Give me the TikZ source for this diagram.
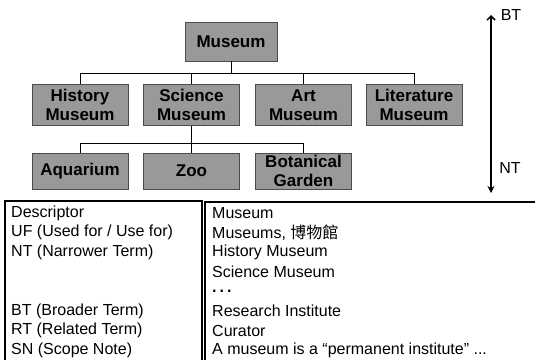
\documentclass[tikz,border=0pt]{standalone}
\usepackage{fontspec}
\setmainfont{Liberation Sans}
\newfontfamily\cjk{Noto Sans CJK TC}
\usetikzlibrary{arrows.meta}

\tikzset{
  term/.style={draw=black!70, fill=black!40, minimum width=96pt, minimum height=41pt,
    inner sep=1pt, align=center, font=\fontsize{17}{19}\selectfont\bfseries},
  field/.style={anchor=west, inner sep=0pt, font=\fontsize{16}{19}\selectfont},
  link/.style={line width=1pt},
  frame/.style={line width=1.2pt}
}

\begin{document}
\begin{tikzpicture}[x=1pt,y=-1pt]
        \useasboundingbox (0,0) rectangle (535,359);

        % Define the terms
        \node[term, minimum width=92pt, minimum height=39pt] (museum) at (231,41.5) {Museum};
        \node[term] (history) at (80,105) {History\\Museum};
        \node[term] (science) at (191.5,105) {Science\\Museum};
        \node[term] (art) at (303.5,105) {Art\\Museum};
        \node[term] (literature) at (414,105) {Literature\\Museum};
        \node[term, minimum height=36pt] (aquarium) at (80,171) {Aquarium};
        \node[term, minimum height=36pt] (zoo) at (191.5,171) {Zoo};
        \node[term, minimum height=36pt] (botanical) at (303.5,171) {Botanical\\Garden};

        % Define the links
        \draw[link] (museum.south) -- ++(0,12) -| (history.north);
        \draw[link] (museum.south) -- ++(0,12) -| (science.north);
        \draw[link] (museum.south) -- ++(0,12) -| (art.north);
        \draw[link] (museum.south) -- ++(0,12) -| (literature.north);
        \draw[link] (science.south) -- ++(0,18) -| (aquarium.north);
        \draw[link] (science.south) -- ++(0,18) -| (zoo.north);
        \draw[link] (science.south) -- ++(0,18) -| (botanical.north);

        % Define the direction arrow
        \coordinate (top) at (491,15);
        \coordinate (bottom) at (491,193);
        \node[font=\fontsize{16}{19}\selectfont, inner sep=0pt] (btlabel) at (511,15) {BT};
        \node[font=\fontsize{16}{19}\selectfont, inner sep=0pt] (ntlabel) at (510,168) {NT};
        \draw[line width=1.5pt, {Straight Barb[length=4pt,width=8pt]}-{Stealth[length=7pt,width=7pt]}] (top) -- (bottom);

        % Define the table
        \draw[frame] (5,201) rectangle (202,362);
        \draw[frame] (205,202) rectangle (538,362);

        \node[field] (descriptor) at (11,213) {Descriptor};
        \node[field] (uf) at (11,232.5) {UF (Used for / Use for)};
        \node[field] (nt) at (11,252) {NT (Narrower Term)};
        \node[field] (bt) at (11,311) {BT (Broader Term)};
        \node[field] (rt) at (11,330.5) {RT (Related Term)};
        \node[field] (sn) at (11,350) {SN (Scope Note)};

        \node[field] (vdescriptor) at (212,213) {Museum};
        \node[field] (vuf) at (212,232.5) {Museums, {\cjk 博物館}};
        \node[field] (vnt1) at (212,252) {History Museum};
        \node[field] (vnt2) at (212,271.5) {Science Museum};
        \node[field] (vnt3) at (212,291) {\textbf{.\hspace{3pt}.\hspace{3pt}.}};
        \node[field] (vbt) at (212,311) {Research Institute};
        \node[field] (vrt) at (212,330.5) {Curator};
        \node[field] (vsn) at (212,350) {A museum is a “permanent institute” ...};
    \end{tikzpicture}
\end{document}
